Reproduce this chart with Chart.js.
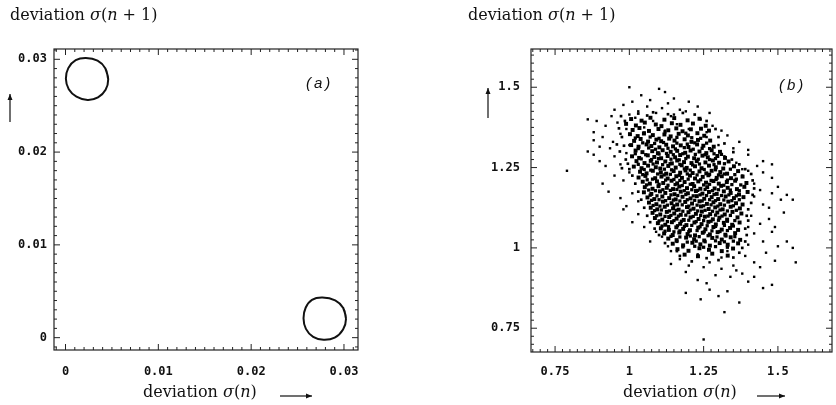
<!DOCTYPE html>
<html>
<head>
<meta charset="utf-8">
<script src="https://cdn.jsdelivr.net/npm/chart.js@4.4.1/dist/chart.umd.min.js"></script>
<style>
  body { margin: 0; background: #fff; }
  #wrap { position: relative; width: 836px; height: 405px; overflow: hidden; color: #111; font-family: "DejaVu Serif", serif; }
  canvas { position: absolute; top: 0; }
  .lbl { position: absolute; font-size: 16px; line-height: 16px; white-space: nowrap; }
  .tag { position: absolute; font-family: "Liberation Sans", sans-serif; font-style: italic; font-size: 15px; letter-spacing: 3px; }
</style>
</head>
<body>
<div id="wrap">
  <canvas id="chartA" width="418" height="405" style="left:0"></canvas>
  <canvas id="chartB" width="418" height="405" style="left:418px"></canvas>
  <div class="lbl" style="left:10px;top:7px">deviation <i>σ</i>(<i>n</i> + 1)</div>
  <div class="lbl" style="left:468px;top:7px">deviation <i>σ</i>(<i>n</i> + 1)</div>
  <div class="lbl" style="left:143px;top:384px">deviation <i>σ</i>(<i>n</i>)</div>
  <div class="lbl" style="left:623px;top:384px">deviation <i>σ</i>(<i>n</i>)</div>
  <div class="tag" style="left:306px;top:74px">(a)</div>
  <div class="tag" style="left:779px;top:76px">(b)</div>
</div>
<script>
/* tick labels */
const ticksA = [0, 0.01, 0.02, 0.03];
const ticksB = [0.75, 1, 1.25, 1.5];

/* panel (a): the two closed orbits */
const loopUpperLeft = [
  [0.00460, 0.02785], [0.00430, 0.02902], [0.00345, 0.02985], [0.00220, 0.03014],
  [0.00110, 0.02990], [0.00030, 0.02905], [0.00004, 0.02790], [0.00035, 0.02678],
  [0.00118, 0.02598], [0.00238, 0.02562], [0.00350, 0.02590], [0.00432, 0.02672],
  [0.00460, 0.02785], [0.00430, 0.02902]
];
const loopLowerRight = [
  [0.03022, 0.00205], [0.02992, 0.00320], [0.02905, 0.00402], [0.02768, 0.00433],
  [0.02655, 0.00408], [0.02588, 0.00325], [0.02564, 0.00210], [0.02590, 0.00095],
  [0.02668, 0.00008], [0.02780, -0.00023], [0.02900, 0.00000], [0.02990, 0.00088],
  [0.03022, 0.00205], [0.02992, 0.00320]
];

/* panel (b): scattered points, outer sparse part */
const haloPts = [
  [1.00,1.50],[1.10,1.495],[1.04,1.475],[1.07,1.46],[1.15,1.465],[1.01,1.455],[1.20,1.455],[1.12,1.485],
  [0.95,1.43],[0.98,1.445],[1.03,1.425],[1.06,1.44],[1.09,1.42],[1.13,1.45],[1.17,1.43],[1.19,1.425],
  [1.23,1.44],[1.27,1.42],[1.00,1.415],[1.11,1.435],[1.15,1.415],
  [0.86,1.40],[0.89,1.395],[0.92,1.38],[0.96,1.39],[0.99,1.37],[1.02,1.405],[1.05,1.375],[1.08,1.395],
  [1.12,1.365],[1.16,1.385],[1.20,1.37],[1.24,1.40],[1.28,1.38],[1.31,1.365],[0.88,1.36],[0.94,1.41],
  [1.14,1.41],[1.26,1.36],
  [0.86,1.30],[0.88,1.335],[0.91,1.345],[0.935,1.31],[0.945,1.33],[0.97,1.355],[1.00,1.32],[1.26,1.345],
  [1.30,1.32],[1.33,1.35],[1.37,1.33],[1.40,1.305],[1.35,1.31],[0.90,1.315],
  [0.79,1.24],[0.88,1.29],[0.90,1.27],[0.92,1.255],[0.95,1.285],[0.97,1.26],[1.32,1.285],[1.36,1.265],
  [1.40,1.29],[1.43,1.255],[1.45,1.27],[1.48,1.26],[0.99,1.295],[1.38,1.245],
  [0.91,1.20],[0.93,1.175],[0.95,1.225],[0.98,1.21],[1.00,1.235],[1.38,1.225],[1.42,1.20],[1.45,1.235],
  [1.48,1.218],[1.50,1.19],[1.44,1.18],[1.40,1.24],
  [0.97,1.155],[0.99,1.13],[1.01,1.17],[1.03,1.145],[1.42,1.16],[1.45,1.135],[1.48,1.17],[1.51,1.15],
  [1.55,1.15],[1.47,1.125],[1.53,1.165],
  [0.98,1.12],[1.01,1.08],[1.03,1.105],[1.05,1.065],[1.41,1.10],[1.44,1.075],[1.47,1.09],[1.52,1.11],
  [1.49,1.065],[1.40,1.065],
  [1.07,1.02],[1.09,1.05],[1.11,1.035],[1.42,1.045],[1.45,1.02],[1.48,1.05],[1.53,1.02],[1.55,1.00],
  [1.50,1.005],[1.40,1.01],[1.13,1.005],
  [1.14,0.99],[1.14,0.95],[1.17,0.965],[1.20,0.945],[1.23,0.98],[1.27,0.955],[1.31,0.97],[1.35,0.945],
  [1.39,0.975],[1.42,0.955],[1.46,0.985],[1.49,0.96],[1.56,0.955],[1.25,0.94],[1.33,0.99],[1.44,0.94],
  [1.19,0.925],[1.23,0.90],[1.26,0.89],[1.29,0.915],[1.34,0.91],[1.36,0.93],[1.40,0.895],[1.42,0.91],
  [1.45,0.875],[1.48,0.885],[1.31,0.935],[1.38,0.92],
  [1.19,0.86],[1.30,0.85],[1.37,0.83],[1.27,0.87],[1.33,0.865],[1.24,0.84],
  [1.25,0.715],[1.32,0.80]
];

/* panel (b): medium-density points around the edge of the core */
const edgePts = [
  [0.965,1.372],[0.975,1.345],[0.982,1.318],[0.968,1.300],[0.988,1.275],[0.975,1.248],[0.995,1.262],[0.958,1.322],[0.985,1.395],[0.972,1.410],
  [1.03,1.418],[1.08,1.422],[1.13,1.416],[1.18,1.42],[1.22,1.415],[1.26,1.395],[1.29,1.37],[1.30,1.345],[1.06,1.412],
  [1.32,1.325],[1.35,1.298],[1.345,1.275],[1.37,1.26],[1.39,1.245],[1.41,1.23],[1.415,1.21],[1.42,1.185],[1.415,1.165],[1.41,1.14],
  [1.40,1.12],[1.395,1.10],[1.40,1.085],[1.39,1.06],[1.395,1.04],[1.39,1.02],[1.38,1.00],
  [1.37,0.985],[1.35,0.97],[1.30,0.962],[1.26,0.968],[1.21,0.958],[1.17,0.975],[1.16,0.99],
  [1.12,1.015],[1.10,1.04],[1.085,1.06],[1.07,1.08],[1.06,1.10],[1.05,1.125],[1.04,1.15],[1.03,1.175],[1.02,1.20],[1.01,1.225],[1.00,1.245]
];

/* panel (b): dense core */
const corePts = [
  [1.006,1.401],[1.041,1.396],[1.071,1.405],[1.118,1.399],[1.151,1.404],[1.196,1.397],[1.236,1.402],
  [0.989,1.386],[1.022,1.381],[1.052,1.390],[1.089,1.384],[1.108,1.379],[1.143,1.388],[1.172,1.383],[1.214,1.387],[1.257,1.380],
  [1.011,1.367],[1.034,1.373],[1.066,1.364],[1.098,1.370],[1.131,1.366],[1.158,1.372],[1.179,1.363],[1.207,1.369],[1.241,1.371],[1.268,1.365],
  [1.002,1.354],[1.028,1.348],[1.049,1.356],[1.079,1.351],[1.118,1.353],[1.139,1.347],[1.166,1.355],[1.197,1.350],[1.229,1.357],[1.252,1.349],
  [1.016,1.333],[1.038,1.339],[1.063,1.331],[1.091,1.337],[1.107,1.332],[1.134,1.340],[1.152,1.334],[1.186,1.338],[1.209,1.330],[1.231,1.336],[1.272,1.334],
  [1.006,1.320],[1.031,1.315],[1.058,1.322],[1.074,1.317],[1.101,1.313],[1.124,1.321],[1.147,1.316],[1.173,1.319],[1.199,1.314],[1.228,1.322],[1.249,1.318],[1.284,1.315],
  [1.021,1.303],[1.044,1.298],[1.077,1.301],[1.096,1.295],[1.112,1.304],[1.139,1.299],[1.161,1.302],[1.188,1.296],[1.206,1.303],[1.236,1.300],[1.259,1.295],[1.277,1.304],[1.305,1.299],
  [1.009,1.285],[1.033,1.280],[1.062,1.288],[1.084,1.283],[1.107,1.279],[1.129,1.286],[1.154,1.282],[1.171,1.289],[1.197,1.284],[1.218,1.279],[1.246,1.287],[1.264,1.282],[1.296,1.286],[1.322,1.280],
  [1.024,1.270],[1.051,1.264],[1.072,1.271],[1.093,1.266],[1.121,1.269],[1.143,1.263],[1.161,1.272],[1.184,1.267],[1.209,1.264],[1.227,1.270],[1.256,1.266],[1.281,1.272],[1.302,1.265],[1.334,1.269],
  [1.015,1.253],[1.041,1.248],[1.063,1.256],[1.089,1.251],[1.104,1.247],[1.131,1.255],[1.156,1.250],[1.176,1.257],[1.193,1.249],[1.221,1.254],[1.243,1.248],[1.268,1.256],[1.291,1.251],[1.316,1.247],[1.352,1.254],
  [1.036,1.237],[1.058,1.232],[1.079,1.240],[1.106,1.235],[1.124,1.231],[1.149,1.239],[1.171,1.234],[1.189,1.241],[1.213,1.233],[1.236,1.238],[1.259,1.232],[1.277,1.240],[1.306,1.236],[1.329,1.231],[1.366,1.239],
  [1.031,1.219],[1.054,1.224],[1.087,1.217],[1.108,1.222],[1.129,1.216],[1.158,1.223],[1.177,1.218],[1.204,1.225],[1.221,1.216],[1.247,1.221],[1.266,1.226],[1.294,1.218],[1.311,1.223],[1.342,1.217],[1.381,1.222],
  [1.045,1.206],[1.069,1.200],[1.093,1.207],[1.114,1.202],[1.142,1.209],[1.161,1.201],[1.186,1.205],[1.213,1.199],[1.232,1.207],[1.258,1.203],[1.283,1.208],[1.301,1.200],[1.328,1.205],[1.356,1.209],[1.394,1.202],
  [1.052,1.189],[1.078,1.184],[1.098,1.192],[1.126,1.187],[1.147,1.183],[1.168,1.191],[1.194,1.186],[1.218,1.192],[1.239,1.184],[1.262,1.189],[1.287,1.185],[1.309,1.193],[1.331,1.187],[1.362,1.183],[1.387,1.190],
  [1.049,1.173],[1.074,1.168],[1.103,1.176],[1.121,1.171],[1.152,1.167],[1.173,1.175],[1.197,1.170],[1.224,1.177],[1.246,1.169],[1.268,1.174],[1.294,1.168],[1.318,1.176],[1.341,1.171],[1.369,1.166],[1.398,1.174],
  [1.061,1.157],[1.084,1.152],[1.111,1.160],[1.134,1.155],[1.156,1.151],[1.179,1.159],[1.206,1.154],[1.227,1.161],[1.252,1.153],[1.277,1.158],[1.299,1.152],[1.324,1.160],[1.352,1.155],[1.384,1.158],
  [1.066,1.141],[1.091,1.136],[1.113,1.144],[1.142,1.139],[1.161,1.135],[1.188,1.143],[1.211,1.138],[1.236,1.145],[1.261,1.137],[1.283,1.142],[1.306,1.136],[1.333,1.144],[1.359,1.139],[1.381,1.135],
  [1.072,1.125],[1.094,1.120],[1.119,1.128],[1.147,1.123],[1.166,1.119],[1.194,1.127],[1.216,1.122],[1.241,1.129],[1.267,1.121],[1.289,1.126],[1.314,1.120],[1.341,1.128],[1.372,1.123],
  [1.078,1.109],[1.104,1.104],[1.126,1.112],[1.151,1.107],[1.173,1.103],[1.199,1.111],[1.224,1.106],[1.244,1.113],[1.272,1.105],[1.296,1.110],[1.321,1.104],[1.347,1.112],[1.377,1.107],
  [1.086,1.093],[1.111,1.088],[1.134,1.096],[1.159,1.091],[1.183,1.087],[1.206,1.095],[1.233,1.090],[1.254,1.097],[1.281,1.089],[1.303,1.094],[1.329,1.088],[1.364,1.095],
  [1.096,1.077],[1.121,1.072],[1.143,1.080],[1.171,1.075],[1.192,1.071],[1.219,1.079],[1.243,1.074],[1.266,1.081],[1.291,1.073],[1.318,1.078],[1.346,1.072],[1.371,1.079],
  [1.106,1.061],[1.133,1.056],[1.158,1.064],[1.181,1.059],[1.204,1.055],[1.232,1.063],[1.256,1.058],[1.283,1.065],[1.311,1.057],[1.339,1.062],[1.366,1.056],
  [1.117,1.045],[1.146,1.040],[1.168,1.048],[1.196,1.043],[1.221,1.039],[1.247,1.047],[1.271,1.042],[1.297,1.049],[1.323,1.041],[1.356,1.046],
  [1.131,1.029],[1.159,1.024],[1.191,1.032],[1.218,1.027],[1.252,1.023],[1.279,1.031],[1.311,1.026],[1.341,1.033],[1.373,1.025],
  [1.146,1.013],[1.181,1.008],[1.212,1.016],[1.239,1.011],[1.271,1.007],[1.304,1.015],[1.331,1.010],[1.366,1.014],
  [1.162,0.996],[1.199,0.991],[1.236,0.999],[1.268,0.994],[1.311,0.990],[1.349,0.998],
  [1.186,0.979],[1.231,0.974],[1.279,0.982],[1.331,0.976]
];

/* panel (b): points between the core rows, densest middle */
const fillPts = [
  [1.05,1.358],[1.12,1.361],[1.19,1.357],
  [1.02,1.342],[1.07,1.345],[1.10,1.341],[1.16,1.344],[1.21,1.343],[1.24,1.341],
  [1.045,1.327],[1.085,1.325],[1.115,1.328],[1.16,1.326],[1.195,1.323],[1.22,1.327],[1.26,1.326],
  [1.03,1.309],[1.065,1.311],[1.088,1.307],[1.13,1.31],[1.155,1.308],[1.185,1.312],[1.215,1.307],[1.245,1.31],[1.27,1.309],
  [1.02,1.293],[1.055,1.29],[1.10,1.292],[1.125,1.294],[1.148,1.29],[1.18,1.293],[1.222,1.291],[1.255,1.29],[1.285,1.293],[1.31,1.291],
  [1.04,1.277],[1.075,1.275],[1.098,1.278],[1.14,1.276],[1.168,1.274],[1.19,1.278],[1.232,1.276],[1.27,1.275],[1.29,1.278],
  [1.03,1.26],[1.08,1.261],[1.112,1.259],[1.137,1.262],[1.17,1.26],[1.213,1.258],[1.236,1.261],[1.285,1.259],[1.32,1.262],
  [1.05,1.244],[1.072,1.242],[1.118,1.245],[1.142,1.243],[1.185,1.246],[1.205,1.242],[1.252,1.244],[1.29,1.243],[1.34,1.245],
  [1.045,1.228],[1.095,1.23],[1.117,1.227],[1.138,1.229],[1.168,1.226],[1.195,1.23],[1.228,1.227],[1.27,1.229],[1.30,1.227],[1.32,1.23],[1.355,1.228],
  [1.06,1.212],[1.078,1.214],[1.122,1.211],[1.15,1.213],[1.17,1.21],[1.198,1.214],[1.24,1.212],[1.275,1.21],[1.292,1.213],[1.33,1.211],[1.36,1.214],
  [1.058,1.196],[1.10,1.198],[1.13,1.195],[1.154,1.197],[1.178,1.194],[1.205,1.198],[1.25,1.196],[1.27,1.198],[1.318,1.195],[1.345,1.197],[1.375,1.196],
  [1.065,1.18],[1.088,1.178],[1.113,1.181],[1.138,1.179],[1.16,1.182],[1.185,1.178],[1.21,1.181],[1.23,1.179],[1.255,1.182],[1.28,1.178],[1.30,1.181],[1.34,1.18],[1.37,1.178],
  [1.07,1.164],[1.093,1.162],[1.14,1.165],[1.163,1.163],[1.19,1.166],[1.215,1.162],[1.238,1.165],[1.26,1.163],[1.285,1.166],[1.31,1.163],[1.335,1.165],[1.36,1.162],
  [1.075,1.148],[1.10,1.15],[1.122,1.147],[1.148,1.149],[1.17,1.146],[1.195,1.15],[1.22,1.148],[1.245,1.146],[1.27,1.15],[1.29,1.147],[1.318,1.149],[1.345,1.147],[1.37,1.15],
  [1.08,1.132],[1.103,1.13],[1.128,1.133],[1.15,1.131],[1.178,1.134],[1.20,1.13],[1.228,1.133],[1.25,1.131],[1.275,1.134],[1.298,1.13],[1.32,1.133],[1.35,1.131],
  [1.085,1.116],[1.108,1.118],[1.135,1.115],[1.158,1.117],[1.18,1.114],[1.205,1.118],[1.23,1.115],[1.255,1.117],[1.28,1.114],[1.305,1.118],[1.33,1.115],[1.36,1.117],
  [1.092,1.10],[1.12,1.098],[1.14,1.101],[1.165,1.099],[1.19,1.102],[1.215,1.098],[1.24,1.101],[1.265,1.099],[1.29,1.102],[1.312,1.099],[1.34,1.101],
  [1.10,1.084],[1.128,1.082],[1.15,1.085],[1.175,1.083],[1.20,1.086],[1.225,1.082],[1.25,1.085],[1.275,1.083],[1.30,1.086],[1.33,1.083],[1.355,1.085],
  [1.11,1.068],[1.132,1.066],[1.162,1.069],[1.185,1.067],[1.21,1.07],[1.238,1.066],[1.262,1.069],[1.29,1.067],[1.32,1.07],[1.35,1.068],
  [1.12,1.052],[1.15,1.05],[1.17,1.053],[1.20,1.051],[1.228,1.054],[1.252,1.05],[1.278,1.053],[1.305,1.051],[1.33,1.054],
  [1.14,1.036],[1.17,1.034],[1.205,1.037],[1.235,1.035],[1.265,1.038],[1.295,1.034],[1.325,1.037],[1.355,1.035],
  [1.16,1.02],[1.195,1.018],[1.225,1.021],[1.255,1.019],[1.29,1.022],[1.32,1.019],[1.35,1.021],
  [1.18,1.003],[1.22,1.005],[1.25,1.002],[1.29,1.004],[1.33,1.002]
];

const toXY = pts => pts.map(([x, y]) => ({ x, y }));

// frame with inward minor/major ticks on all four sides, plus the arrows
const framePlugin = {
  id: 'frame',
  afterDraw(chart, args, o) {
    const { ctx, chartArea: a, scales: { x, y } } = chart;
    ctx.save();
    ctx.strokeStyle = '#222';
    ctx.lineWidth = 1.2;
    ctx.strokeRect(a.left, a.top, a.right - a.left, a.bottom - a.top);
    ctx.lineWidth = 1;
    ctx.beginPath();
    for (let i = Math.ceil(x.min / o.step); i * o.step <= x.max; i++) {
      const px = x.getPixelForValue(i * o.step);
      const len = i % 10 === 0 ? 6 : 3;
      ctx.moveTo(px, a.bottom); ctx.lineTo(px, a.bottom - len);
      ctx.moveTo(px, a.top); ctx.lineTo(px, a.top + len);
    }
    for (let i = Math.ceil(y.min / o.step); i * o.step <= y.max; i++) {
      const py = y.getPixelForValue(i * o.step);
      const len = i % 10 === 0 ? 6 : 3;
      ctx.moveTo(a.left, py); ctx.lineTo(a.left + len, py);
      ctx.moveTo(a.right, py); ctx.lineTo(a.right - len, py);
    }
    ctx.stroke();

    ctx.fillStyle = '#111';
    ctx.lineWidth = 1.3;
    o.arrows.forEach(([x1, y1, x2, y2]) => {
      const ang = Math.atan2(y2 - y1, x2 - x1);
      ctx.beginPath();
      ctx.moveTo(x1, y1); ctx.lineTo(x2, y2);
      ctx.stroke();
      ctx.beginPath();
      ctx.moveTo(x2, y2);
      ctx.lineTo(x2 - 6 * Math.cos(ang) + 2.5 * Math.sin(ang), y2 - 6 * Math.sin(ang) - 2.5 * Math.cos(ang));
      ctx.lineTo(x2 - 6 * Math.cos(ang) - 2.5 * Math.sin(ang), y2 - 6 * Math.sin(ang) + 2.5 * Math.cos(ang));
      ctx.closePath();
      ctx.fill();
    });
    ctx.restore();
  }
};

function axis(min, max, tickVals, size, pad, horizontal) {
  return {
    type: 'linear',
    min: min,
    max: max,
    afterBuildTicks: s => { s.ticks = tickVals.map(v => ({ value: v })); },
    afterFit: s => { if (horizontal) s.height = size; else s.width = size; },
    grid: { display: false, drawTicks: false },
    border: { display: false },
    ticks: {
      autoSkip: false,
      maxRotation: 0,
      padding: pad,
      color: '#111',
      font: { family: 'DejaVu Sans Mono', size: 12, weight: 'bold' },
      callback: v => String(v)
    }
  };
}

const loopStyle = { showLine: true, tension: 0.4, pointRadius: 0, borderColor: '#111', borderWidth: 2, fill: false };
const dotStyle = { pointStyle: 'rect', backgroundColor: '#000', borderWidth: 0 };

new Chart(document.getElementById('chartA'), {
  type: 'scatter',
  data: {
    datasets: [
      Object.assign({ data: toXY(loopUpperLeft) }, loopStyle),
      Object.assign({ data: toXY(loopLowerRight) }, loopStyle)
    ]
  },
  options: {
    responsive: false,
    animation: false,
    devicePixelRatio: 1,
    layout: { padding: { left: 0, right: 60, top: 49, bottom: 0 } },
    plugins: {
      legend: { display: false },
      tooltip: { enabled: false },
      frame: { step: 0.001, arrows: [[10, 122, 10, 94], [280, 396, 312, 396]] }
    },
    scales: {
      x: axis(-0.00124, 0.03151, ticksA, 55, 15, true),
      y: axis(-0.00133, 0.03111, ticksA, 54, 7, false)
    }
  },
  plugins: [framePlugin]
});

new Chart(document.getElementById('chartB'), {
  type: 'scatter',
  data: {
    datasets: [
      Object.assign({ data: toXY(haloPts), pointRadius: 1.7 }, dotStyle),
      Object.assign({ data: toXY(edgePts), pointRadius: 1.9 }, dotStyle),
      Object.assign({ data: toXY(corePts), pointRadius: 2.8 }, dotStyle),
      Object.assign({ data: toXY(fillPts), pointRadius: 2.3 }, dotStyle)
    ]
  },
  options: {
    responsive: false,
    animation: false,
    devicePixelRatio: 1,
    layout: { padding: { left: 0, right: 4, top: 49, bottom: 0 } },
    plugins: {
      legend: { display: false },
      tooltip: { enabled: false },
      frame: { step: 0.025, arrows: [[70, 118, 70, 88], [339, 396, 367, 396]] }
    },
    scales: {
      x: axis(0.669, 1.682, ticksB, 53, 13, true),
      y: axis(0.676, 1.619, ticksB, 113, 11, false)
    }
  },
  plugins: [framePlugin]
});
</script>
</body>
</html>
